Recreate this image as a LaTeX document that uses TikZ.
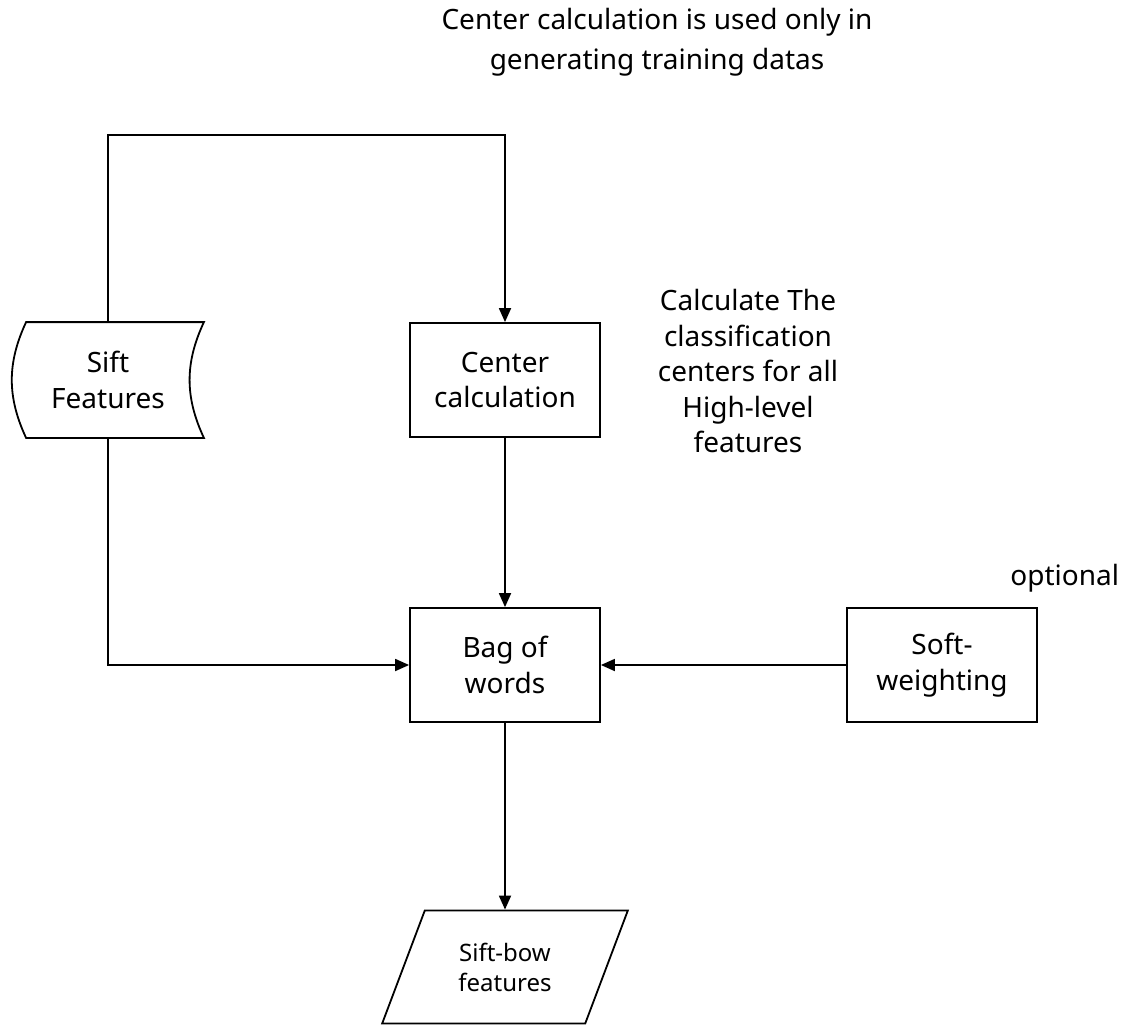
\documentclass[tikz,border=0pt]{standalone}
\usepackage{fontspec}
\setmainfont{Noto Sans}
\usetikzlibrary{arrows.meta,shapes.geometric}

\begin{document}
\begin{tikzpicture}[x=0.5pt,y=-0.5pt,line width=0.9pt,
	>={Triangle[width=6pt,length=7pt]},
	box/.style={draw,minimum width=95pt,minimum height=57pt,align=center,inner sep=0pt,
		font=\fontsize{14}{17.75}\selectfont},
	note/.style={align=center,inner sep=0pt,font=\fontsize{14}{17.75}\selectfont}]
	\useasboundingbox (0,0) rectangle (1124,1028);

	\node[note,font=\fontsize{14}{20}\selectfont] (title) at (657,42)
		{Center calculation is used only in\\generating training datas};

	% stored data shape, drawn round the node
	\node[box,draw=none,minimum width=88pt] (sift) at (108,380) {Sift\\Features};
	\draw ([xshift=3.5pt]sift.north west) -- ([xshift=3.5pt]sift.north east)
		to[bend right=25] ([xshift=3.5pt]sift.south east)
		-- ([xshift=3.5pt]sift.south west) to[bend left=25] cycle;

	\node[box] (center) at (505,380) {Center\\calculation};
	\node[note] (explain) at (748,371)
		{Calculate The\\classification\\centers for all\\High-level\\features};

	\node[box] (bag) at (505,665) {Bag of\\words};
	\node[box] (soft) at (942,665) {Soft-\\weighting};
	\node[note,anchor=east] (optional) at (1120,578) {optional};

	\node[trapezium,draw,trapezium left angle=63,trapezium right angle=117,
		trapezium stretches=true,minimum width=123pt,minimum height=56.5pt,
		align=center,inner sep=0pt,font=\fontsize{12}{15}\selectfont] (bow) at (505,967)
		{Sift-bow\\features};

	\coordinate (turn) at (108,135);
	\draw[->] (sift.north) -- (turn) -| (center.north);
	\draw[->] (sift.south) |- (bag.west);
	\draw[->] (center) -- (bag);
	\draw[->] (soft) -- (bag);
	\draw[->] (bag) -- (bow);
\end{tikzpicture}
\end{document}
